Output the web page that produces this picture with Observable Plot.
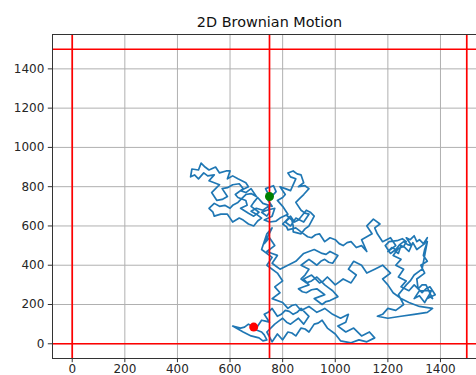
<!DOCTYPE html>
<html>
<head>
<meta charset="utf-8">
<script src="https://cdn.jsdelivr.net/npm/d3@7"></script>
<script src="https://cdn.jsdelivr.net/npm/@observablehq/plot@0.6"></script>
<style>
  html, body { margin: 0; padding: 0; background: #fff; overflow: hidden; }
  #chart { width: 476px; height: 375px; overflow: hidden; }
  #chart svg { font-family: "DejaVu Sans", sans-serif; max-width: none !important; width: 500px; height: 385px; }
</style>
</head>
<body>
<div id="chart"></div>
<script>
// Random walk positions [x, y], in step order (start → end)
const walkSteps = [
  // wandering up and to the left of the start
  [750,750],[735,790],[765,805],[775,775],[745,730],[760,700],[725,715],[705,745],[690,720],[680,700],[710,670],[690,650],[670,665],[640,690],[665,705],[660,730],[630,745],[620,760],[650,790],[635,815],[610,810],[590,795],[570,790],[590,750],[570,735],[550,730],[530,770],[545,790],[560,810],[520,830],[540,860],[515,855],[500,870],[480,840],[465,860],[450,850],[455,890],[480,885],[490,920],[505,900],[520,885],[545,900],[560,870],[585,880],[600,880],[590,840],[610,855],[630,840],[660,820],[670,800],[640,780],[660,770],[680,790],[700,750],[680,765],[660,760],[645,740],[630,720],[610,705],[600,690],[580,705],[560,700],[540,715],[520,690],[535,670],[540,650],[565,660],[590,660],[600,640],[610,620],[635,640],[650,630],[670,610],[690,600],[705,625],[720,640],[700,660],[680,675],[700,690],[725,680],[745,700],[750,670],[740,650],[720,670],[740,680],[770,690],[760,650],[730,630],[750,620],[775,625],[790,640],
  // up to the north branch, then east
  [820,660],[800,700],[780,730],[800,745],[810,760],[790,800],[810,790],[830,780],[850,840],[830,850],[820,870],[840,880],[855,865],[870,860],[880,820],[860,800],[885,805],[900,790],[880,760],[865,740],[850,720],[870,680],[885,665],[900,660],[880,620],[850,640],[830,600],[810,620],[825,640],[815,655],[835,630],[840,600],[840,570],[870,560],[885,585],[900,600],[920,650],[905,670],[890,680],[860,630],[845,620],[830,650],[800,610],[815,595],[820,580],[850,590],[865,575],[880,560],[895,545],[910,540],[925,555],[940,560],[950,540],[960,520],[980,540],[1000,530],[1015,510],[1030,500],[1045,515],[1060,520],[1080,490],[1100,500],[1120,470],
  // eastern cluster
  [1100,530],[1140,560],[1120,600],[1145,635],[1170,610],[1150,590],[1160,560],[1180,520],[1210,540],[1230,500],[1200,470],[1215,490],[1230,480],[1245,505],[1260,520],[1275,505],[1290,500],[1270,540],[1285,530],[1300,550],[1310,520],[1320,530],[1335,510],[1350,540],[1340,510],[1325,495],[1310,480],[1295,515],[1280,470],[1265,490],[1250,500],[1240,460],[1225,475],[1210,460],[1190,500],[1205,520],[1235,525],[1255,535],[1270,520],[1260,495],[1240,485],[1220,450],[1250,430],[1230,400],[1260,380],[1240,340],[1270,320],[1250,290],[1280,270],[1300,300],[1330,260],[1345,280],[1360,290],[1380,250],[1350,230],[1365,270],[1320,270],[1300,230],[1320,245],[1340,210],[1355,245],[1370,230],[1345,300],[1330,300],[1315,280],[1310,330],[1340,360],[1325,400],[1350,420],[1335,450],[1340,480],[1350,520],[1340,450],[1330,380],[1300,350],[1285,320],[1270,300],[1240,250],[1260,200],[1230,170],[1200,180],[1180,150],[1160,140],[1200,130],[1250,140],[1300,150],[1350,160],[1370,180],[1320,190],[1280,210],[1250,230],[1220,260],[1200,300],[1180,330],[1210,360],[1180,400],[1150,380],[1120,360],[1100,400],[1070,420],[1050,380],[1080,350],[1060,310],
  // central tangle
  [1030,330],[1000,300],[985,320],[970,340],[955,320],[940,310],[925,330],[910,350],[895,340],[880,330],[900,300],[880,290],[860,280],[875,265],[890,260],[910,275],[930,280],[945,265],[960,250],[940,240],[920,230],[935,215],[950,200],[965,215],[980,220],[1010,240],[990,270],[975,285],[960,300],[945,320],[930,340],[910,320],[890,310],[870,330],[885,350],[900,380],[870,400],[885,415],[900,430],[915,415],[930,400],[945,420],[960,430],[975,415],[990,410],[1010,450],[980,470],[965,455],[950,460],[935,470],[920,480],[900,470],[880,460],[865,440],[850,420],[835,410],[820,400],[805,390],[790,380],[775,395],[760,410],[780,450],[760,460],[740,470],[770,500],[750,540],[730,510],[760,590],[740,560],
  // south to the finish
  [720,480],[760,440],[740,400],[780,360],[800,320],[770,290],[790,260],[760,230],[800,210],[820,180],[835,195],[850,200],[860,185],[870,170],[885,180],[900,190],[915,175],[930,160],[945,170],[960,180],[990,150],[1020,130],[1050,150],[1040,110],[1010,90],[1040,60],[1070,80],[1100,40],[1130,60],[1150,30],[1120,10],[1090,20],[1060,5],[1020,15],[1000,50],[970,80],[950,120],[935,105],[920,100],[900,60],[885,75],[870,80],[850,40],[835,55],[820,60],[800,20],[780,50],[760,10],[740,60],[770,100],[785,115],[800,130],[815,110],[830,100],[845,115],[860,130],[880,100],[900,140],[870,180],[855,160],[840,150],[825,165],[810,170],[795,150],[780,140],[760,180],[745,160],[730,150],[750,110],[735,115],[720,120],[700,80],[670,100],[655,85],[640,80],[610,90],[630,75],[650,60],[665,50],[680,40],[710,30],[725,15],[740,20],[730,45],[720,60],[700,70],[690,85]
];
// Reference lines and axis ticks
const refX = [0, 750, 1500];
const refY = [0, 1500];
const ticksX = [0, 200, 400, 600, 800, 1000, 1200, 1400];
const ticksY = [0, 200, 400, 600, 800, 1000, 1200, 1400];
const titleText = "2D Brownian Motion";

const walk = walkSteps.map(([x, y]) => ({x, y}));
const first = [walk[0]];
const last = [walk[walk.length - 1]];

const chart = Plot.plot({
  width: 500,
  height: 385,
  marginLeft: 52,
  marginRight: 14,
  marginTop: 34,
  marginBottom: 27,
  style: {fontFamily: "DejaVu Sans, sans-serif", fontSize: "12px", color: "#262626", background: "#fff", maxWidth: "none"},
  x: {domain: [-75, 1575]},
  y: {domain: [-75, 1575]},
  marks: [
    Plot.gridX(ticksX, {stroke: "#b0b0b0", strokeOpacity: 1, strokeWidth: 1}),
    Plot.gridY(ticksY, {stroke: "#b0b0b0", strokeOpacity: 1, strokeWidth: 1}),
    Plot.line(walk, {x: "x", y: "y", stroke: "#1f77b4", strokeWidth: 1.7, strokeLinejoin: "round"}),
    Plot.ruleX(refX, {stroke: "red", strokeWidth: 1.7}),
    Plot.ruleY(refY, {stroke: "red", strokeWidth: 1.7}),
    Plot.dot(first, {x: "x", y: "y", r: 4.5, fill: "green", stroke: "none"}),
    Plot.dot(last, {x: "x", y: "y", r: 4.5, fill: "red", stroke: "none"}),
    Plot.axisX(ticksX, {tickSize: 4.2, tickPadding: 1.5, fontSize: 12, stroke: "#333", label: null, tickFormat: d => String(d)}),
    Plot.axisY(ticksY, {tickSize: 4.2, tickPadding: 4, fontSize: 12, stroke: "#333", label: null, tickFormat: d => String(d)}),
    Plot.frame({stroke: "#333", strokeWidth: 1}),
    Plot.text([titleText], {frameAnchor: "top", lineAnchor: "bottom", dy: -8, fontSize: 14.4, fill: "#111"})
  ]
});
document.getElementById("chart").appendChild(chart);
</script>
</body>
</html>
